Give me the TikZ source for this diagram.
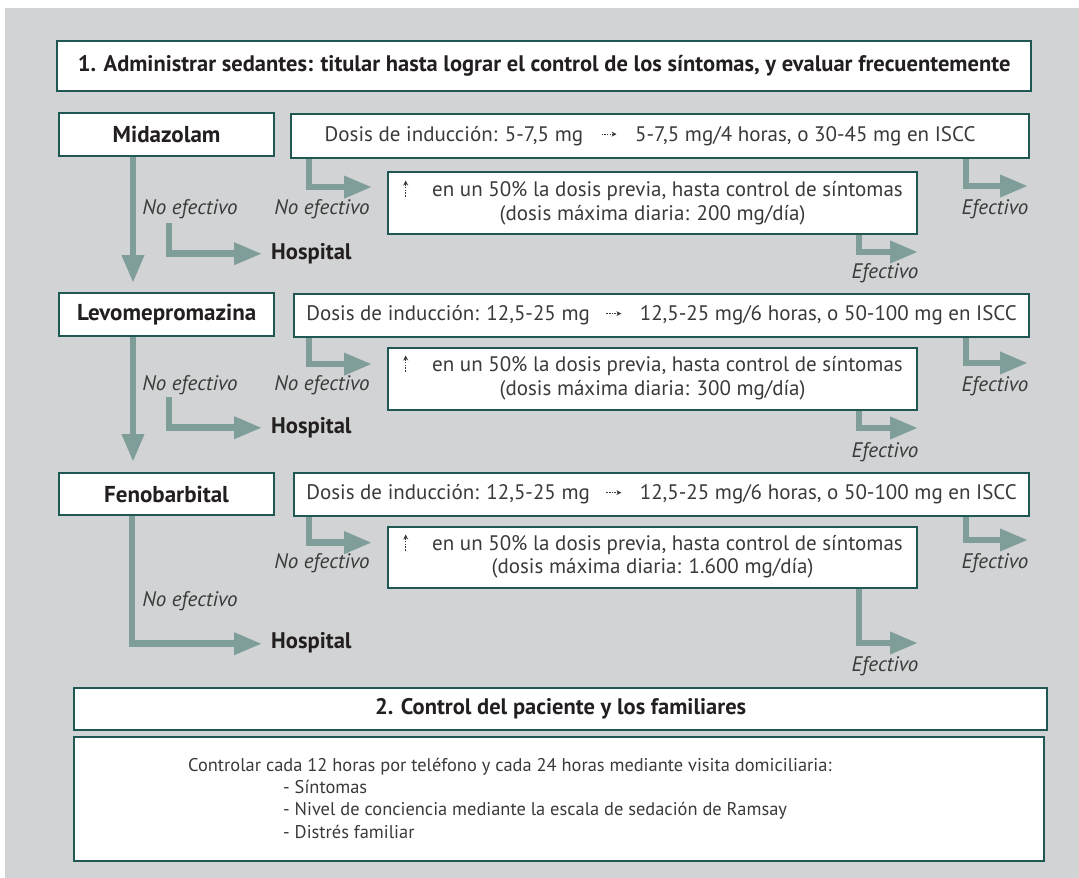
\documentclass[tikz,border=0pt]{standalone}
\usepackage{fontspec}
\setmainfont{PT Sans}
\usetikzlibrary{arrows.meta}
\definecolor{bgray}{HTML}{D1D3D4}
\definecolor{frame}{HTML}{1F5752}
\definecolor{flowc}{HTML}{7F9E9A}
\definecolor{ink}{HTML}{231F20}
\definecolor{txt}{HTML}{3A3A3A}

% small dotted arrows used inside the dose texts
\newcommand\dashright{\tikz[baseline=-0.7ex]\draw[txt, line width=1pt, dash pattern=on 1.5pt off 1.2pt, -{Stealth[length=5pt,width=5pt]}] (0pt,0pt) -- (15pt,0pt);}
\newcommand\dashup{\tikz[baseline=0pt]\draw[txt, line width=1pt, dash pattern=on 1.5pt off 1.2pt, -{Stealth[length=5pt,width=5pt]}] (0pt,0pt) -- (0pt,16pt);}

\begin{document}
\begin{tikzpicture}[x=1pt,y=-1pt,
  box/.style={draw=frame, line width=2.2pt, fill=white, anchor=north west, inner sep=0pt},
  flow/.style={draw=flowc, line width=6.5pt, -{Triangle[length=28pt,width=21pt]}},
  head/.style={font=\fontsize{22.5}{26}\selectfont\bfseries, text=ink},
  drug/.style={font=\fontsize{23}{26}\selectfont\bfseries, text=ink},
  body/.style={font=\fontsize{21}{25}\selectfont, text=txt},
  lab/.style={font=\fontsize{21}{25}\selectfont\itshape, text=txt, inner sep=0pt},
  hosp/.style={font=\fontsize{22.6}{26}\selectfont\bfseries, text=ink, inner sep=0pt, anchor=mid west},
  note/.style={font=\fontsize{18.4}{22}\selectfont, text=txt, inner sep=0pt, anchor=mid west}]
\useasboundingbox (0,0) rectangle (1079,878);
\fill[white] (0,0) rectangle (1079,878);
\fill[bgray] (5,8) rectangle (1079,878);

% section 1 header
\node[box, head, minimum width=974pt, minimum height=50pt] (T1) at (56,40)
  {1. Administrar sedantes: titular hasta lograr el control de los síntomas, y evaluar frecuentemente};

% drug boxes
\node[box, drug, minimum width=215pt, minimum height=43pt] (M) at (58,112) {Midazolam};
\node[box, drug, minimum width=215pt, minimum height=43pt] (L) at (58,292) {Levomepromazina};
\node[box, drug, minimum width=215pt, minimum height=42pt] (F) at (58,472) {Fenobarbital};

% induction dose boxes
\node[box, body, minimum width=738pt, minimum height=44pt] (D1) at (290,113)
  {Dosis de inducción: 5-7,5 mg\hspace{18pt}\dashright\hspace{18pt}5-7,5 mg/4 horas, o 30-45 mg en ISCC\hspace*{20pt}};
\node[box, body, minimum width=735pt, minimum height=43pt] (D2) at (293,293)
  {Dosis de inducción: 12,5-25 mg\hspace{16pt}\dashright\hspace{18pt}12,5-25 mg/6 horas, o 50-100 mg en ISCC};
\node[box, body, minimum width=735pt, minimum height=43pt] (D3) at (293,472)
  {Dosis de inducción: 12,5-25 mg\hspace{16pt}\dashright\hspace{18pt}12,5-25 mg/6 horas, o 50-100 mg en ISCC};

% increment boxes
\node[box, minimum width=529pt, minimum height=62pt] (I1) at (387,171) {};
\node[box, minimum width=529pt, minimum height=62pt] (I2) at (387,347) {};
\node[box, minimum width=529pt, minimum height=61pt] (I3) at (387,526) {};
\foreach \n/\ya/\yb/\mx in {1/194/218/{200 mg/día}, 2/369/393/{300 mg/día}, 3/548/571/{1.600 mg/día}}{
  \node[body, inner sep=0pt, anchor=mid west] (I\n a) at (403,\ya)
    {\dashup\hspace{24pt}en un 50\% la dosis previa, hasta control de síntomas};
  \node[body, inner sep=0pt, anchor=mid] (I\n b) at (I\n.center |- 0,\yb) {(dosis máxima diaria: \mx)};
}

% labels
\node[lab] (nl1) at (190,209) {No efectivo};
\node[lab] (nl2) at (190,385) {No efectivo};
\node[lab] (nl3) at (190,601) {No efectivo};
\node[lab] (nr1) at (322,209) {No efectivo};
\node[lab] (nr2) at (322,385) {No efectivo};
\node[lab] (nr3) at (322,563) {No efectivo};
\node[lab] (ea1) at (995,209) {Efectivo};
\node[lab] (ea2) at (995,386) {Efectivo};
\node[lab] (ea3) at (995,563) {Efectivo};
\node[lab] (eb1) at (885,273) {Efectivo};
\node[lab] (eb2) at (885,452) {Efectivo};
\node[lab] (eb3) at (885,666) {Efectivo};
\node[hosp] (H1) at (271,257) {Hospital};
\node[hosp] (H2) at (271,431) {Hospital};
\node[hosp] (H3) at (271,646) {Hospital};

% free ends of the arrows
\coordinate (hs1) at (169,223);
\coordinate (hs2) at (169,397);
\coordinate (ta1) at (1028,186);
\coordinate (ta2) at (1028,363);
\coordinate (ta3) at (1028,540);
\coordinate (tb1) at (918,252);
\coordinate (tb2) at (918,428);
\coordinate (tb3) at (918,643);

% escalation down the drug column
\draw[flow] ([xshift=75pt]M.south west) -- ([xshift=75pt,yshift=9pt]L.north west);
\draw[flow] ([xshift=75pt]L.south west) -- ([xshift=75pt,yshift=10pt]F.north west);
\draw[flow] ([xshift=74pt]F.south west) |- ([xshift=-9pt,yshift=-1pt]H3.west);
\draw[flow] (hs1) |- ([xshift=-9pt]H1.west);
\draw[flow] (hs2) |- ([xshift=-9pt]H2.west);

% not effective: increase the dose
\draw[flow] ([xshift=19pt]D1.south west) |- ([xshift=-15pt,yshift=16pt]I1.west);
\draw[flow] ([xshift=16pt]D2.south west) |- ([xshift=-15pt,yshift=15pt]I2.west);
\draw[flow] ([xshift=16pt]D3.south west) |- ([xshift=-15pt,yshift=15pt]I3.west);

% effective
\draw[flow] ([xshift=-64pt]D1.south east) |- (ta1);
\draw[flow] ([xshift=-64pt]D2.south east) |- (ta2);
\draw[flow] ([xshift=-64pt]D3.south east) |- (ta3);
\draw[flow] ([xshift=-59pt]I1.south east) |- (tb1);
\draw[flow] ([xshift=-59pt]I2.south east) |- (tb2);
\draw[flow] ([xshift=-59pt]I3.south east) |- (tb3);

% section 2
\node[box, head, minimum width=973pt, minimum height=42pt] (T2) at (73,687)
  {2. Control del paciente y los familiares};
\node[box, minimum width=970pt, minimum height=124pt] (B) at (73,736) {};
\node[note] (b0) at (188,769) {Controlar cada 12 horas por teléfono y cada 24 horas mediante visita domiciliaria:};
\node[note] (b1) at (283,791) {- Síntomas};
\node[note] (b2) at (283,813) {- Nivel de conciencia mediante la escala de sedación de Ramsay};
\node[note] (b3) at (283,836) {- Distrés familiar};
\end{tikzpicture}
\end{document}
